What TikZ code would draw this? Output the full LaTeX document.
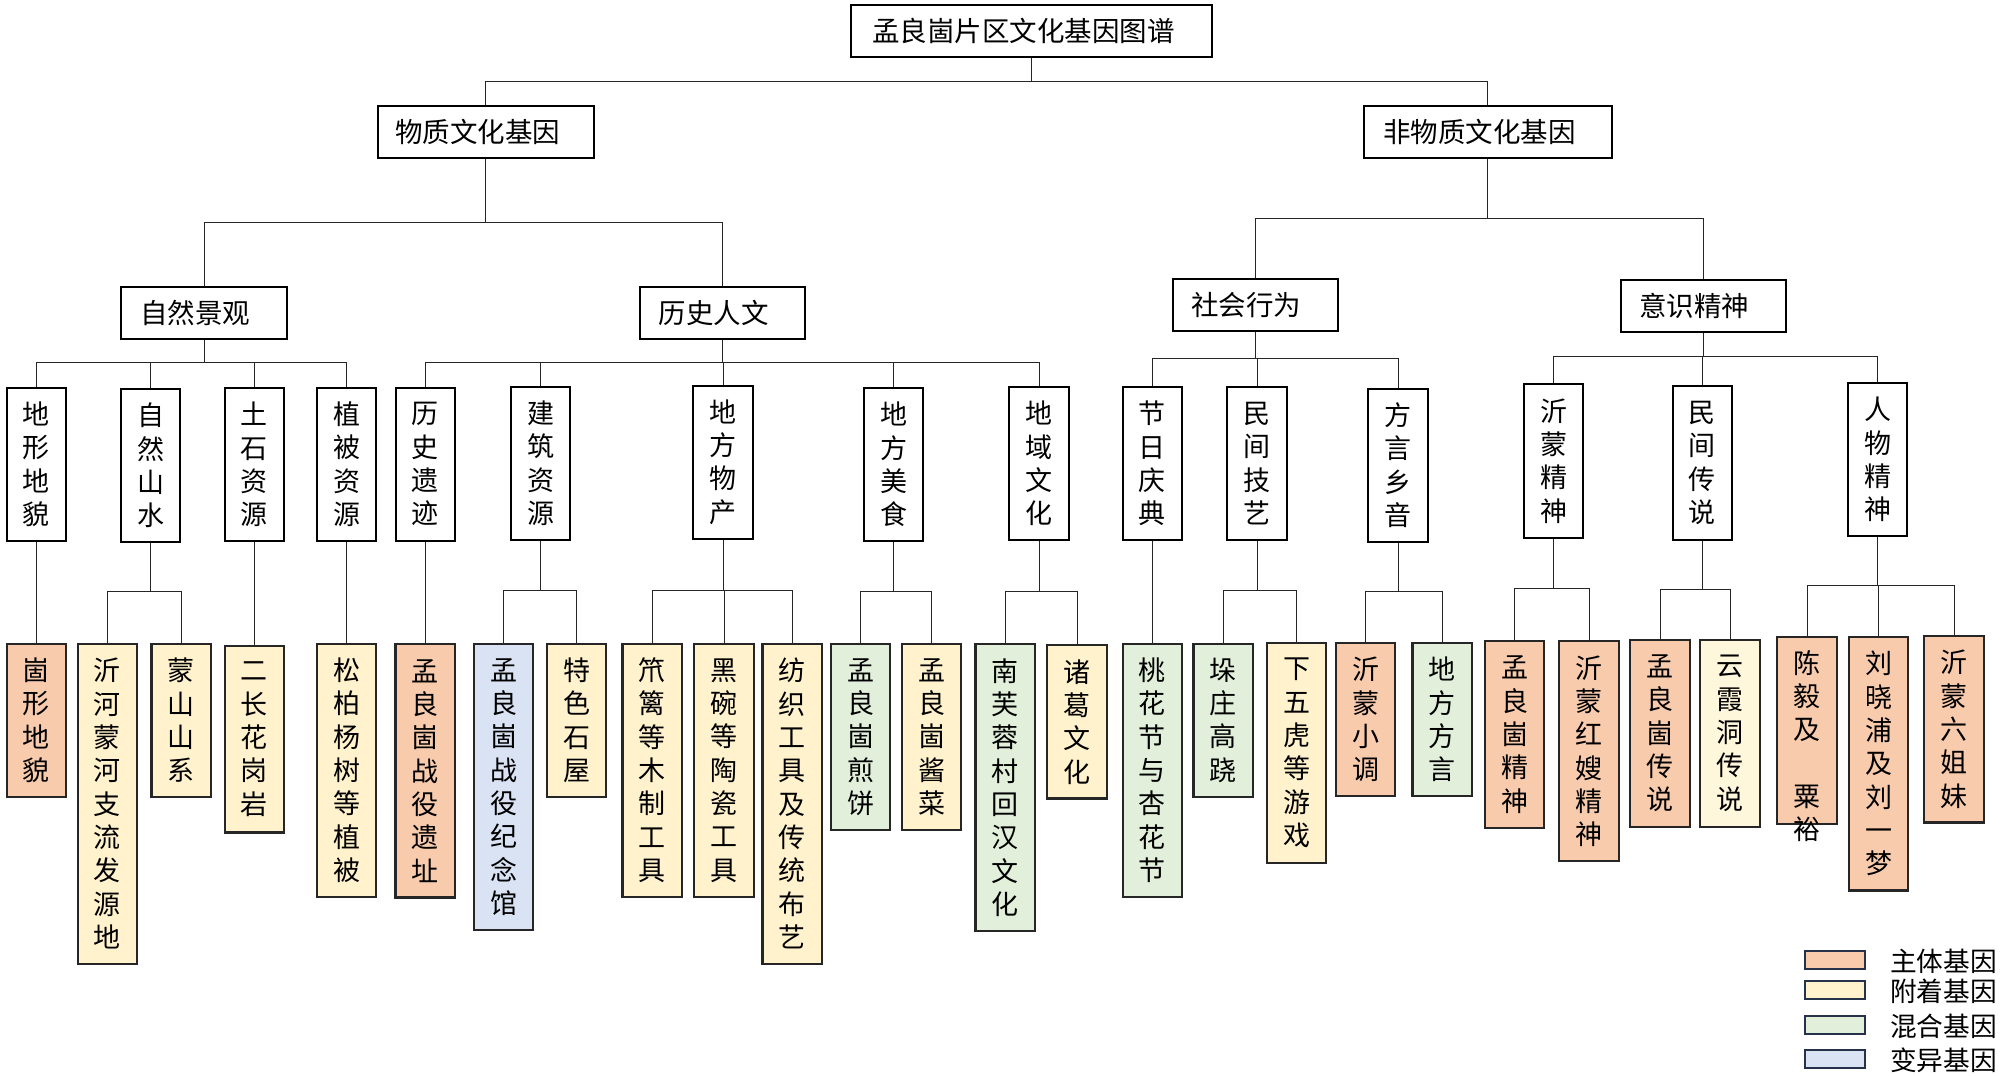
\documentclass[tikz,border=0pt]{standalone}
\usepackage{fontspec}
\setmainfont{Noto Sans CJK SC}
\definecolor{czt}{HTML}{F8CBAD}
\definecolor{cfz}{HTML}{FFF2CC}
\definecolor{chh}{HTML}{E2EFDA}
\definecolor{cby}{HTML}{DAE3F3}
\definecolor{cfzb}{HTML}{FFF7DC}
\definecolor{cleg}{HTML}{26324A}
\newcommand\busline[4]{%
  \draw[conn] (#1.south) -- (#1.south |- 0,#4);
  \draw[conn] (#2.north) -- (#2.north |- 0,#4) -- (#3.north |- 0,#4) -- (#3.north);}
\newcommand\mydrop[2]{\draw[conn] (#1.north) -- (#1.north |- 0,#2);}
\newcommand\leaf[6]{\node[leafbox, fill=#5, minimum height=33.333*#4+20] (#1) at (#2,#3) {#6};}
\begin{document}
\begin{tikzpicture}[x=1pt,y=-1pt,
  conn/.style={line width=0.9pt, draw=black!85},
  hbox/.style={draw=black, line width=2pt, inner sep=0pt, minimum height=52pt, font=\fontsize{27.5}{33}\selectfont},
  vbox/.style={draw=black, line width=2pt, inner sep=0pt, minimum width=59.3pt, minimum height=153.3pt, align=center, anchor=north, font=\fontsize{27}{33.333}\selectfont},
  leafbox/.style={draw=black!85, line width=2.2pt, inner sep=0pt, minimum width=59.3pt, align=center, anchor=north, font=\fontsize{27}{33.333}\selectfont},
  legbox/.style={draw=cleg, line width=2.4pt, minimum width=60pt, minimum height=18.5pt, inner sep=0pt},
  legtxt/.style={anchor=west, inner sep=0pt, font=\fontsize{26.7}{30}\selectfont}]
\useasboundingbox (0,0) rectangle (2000,1076);

% level 0-2
\node[hbox, minimum width=361pt] (root) at (1031.5,31) {孟良崮片区文化基因图谱\hspace*{16pt}};
\node[hbox, minimum width=216pt] (wz) at (485.7,132) {物质文化基因\hspace*{16pt}};
\node[hbox, minimum width=248pt] (fwz) at (1487.5,132) {非物质文化基因\hspace*{16pt}};
\node[hbox, minimum width=166pt] (zr) at (204,312.7) {自然景观\hspace*{18pt}};
\node[hbox, minimum width=165.5pt] (ls) at (722.7,312.7) {历史人文\hspace*{18pt}};
\node[hbox, minimum width=165pt] (sh) at (1255.4,304.7) {社会行为\hspace*{18pt}};
\node[hbox, minimum width=165pt] (ys) at (1703,306) {意识精神\hspace*{18pt}};

% level 3
\node[vbox] (ta) at (36.4,386.5) {地\\形\\地\\貌};
\node[vbox] (tb) at (150.7,388) {自\\然\\山\\水};
\node[vbox] (tc) at (254.3,387) {土\\石\\资\\源};
\node[vbox] (td) at (346.5,386.5) {植\\被\\资\\源};
\node[vbox] (te) at (425.2,386.5) {历\\史\\遗\\迹};
\node[vbox] (tf) at (540.6,385.7) {建\\筑\\资\\源};
\node[vbox] (tg) at (723,384.5) {地\\方\\物\\产};
\node[vbox] (th) at (893.7,387) {地\\方\\美\\食};
\node[vbox] (ti) at (1039,386) {地\\域\\文\\化};
\node[vbox] (tj) at (1152.4,386) {节\\日\\庆\\典};
\node[vbox] (tk) at (1257,386) {民\\间\\技\\艺};
\node[vbox] (tl) at (1398,387.6) {方\\言\\乡\\音};
\node[vbox] (tm) at (1553.8,383.4) {沂\\蒙\\精\\神};
\node[vbox] (tn) at (1702.4,385.3) {民\\间\\传\\说};
\node[vbox] (to) at (1877.6,381.9) {人\\物\\精\\神};

% level 4
\leaf{p1}{36.4}{642.5}{4}{czt}{崮\\形\\地\\貌}
\leaf{p2}{107.3}{642.5}{9}{cfz}{沂\\河\\蒙\\河\\支\\流\\发\\源\\地}
\leaf{p3}{181.2}{642.5}{4}{cfz}{蒙\\山\\山\\系}
\leaf{p4}{254.3}{644.8}{5}{cfz}{二\\长\\花\\岗\\岩}
\leaf{p5}{346.5}{642.5}{7}{cfz}{松\\柏\\杨\\树\\等\\植\\被}
\leaf{p6}{425.2}{643}{7}{czt}{孟\\良\\崮\\战\\役\\遗\\址}
\leaf{p7}{503.5}{642.5}{8}{cby}{孟\\良\\崮\\战\\役\\纪\\念\\馆}
\leaf{p8}{576.5}{642.5}{4}{cfz}{特\\色\\石\\屋}
\leaf{p9}{652.2}{642.5}{7}{cfz}{笊\\篱\\等\\木\\制\\工\\具}
\leaf{p10}{724}{642.5}{7}{cfz}{黑\\碗\\等\\陶\\瓷\\工\\具}
\leaf{p11}{792.2}{642.5}{9}{cfz}{纺\\织\\工\\具\\及\\传\\统\\布\\艺}
\leaf{p12}{860.5}{642.5}{5}{chh}{孟\\良\\崮\\煎\\饼}
\leaf{p13}{931.5}{642.5}{5}{cfz}{孟\\良\\崮\\酱\\菜}
\leaf{p14}{1005.1}{643}{8}{chh}{南\\芙\\蓉\\村\\回\\汉\\文\\化}
\leaf{p15}{1077}{644}{4}{cfz}{诸\\葛\\文\\化}
\leaf{p16}{1152.4}{642.5}{7}{chh}{桃\\花\\节\\与\\杏\\花\\节}
\leaf{p17}{1223.2}{642.5}{4}{chh}{垛\\庄\\高\\跷}
\leaf{p18}{1296.5}{641.7}{6}{cfz}{下\\五\\虎\\等\\游\\戏}
\leaf{p19}{1365.6}{641.7}{4}{czt}{沂\\蒙\\小\\调}
\leaf{p20}{1442.2}{641.7}{4}{chh}{地\\方\\方\\言}
\leaf{p21}{1514.5}{640.2}{5}{czt}{孟\\良\\崮\\精\\神}
\leaf{p22}{1589}{640.2}{6}{czt}{沂\\蒙\\红\\嫂\\精\\神}
\leaf{p23}{1660}{639}{5}{czt}{孟\\良\\崮\\传\\说}
\leaf{p24}{1730}{639}{5}{cfzb}{云\\霞\\洞\\传\\说}
\leaf{p25}{1807}{636}{5}{czt}{}
\node[inner sep=0pt, align=center, font=\fontsize{27}{33.333}\selectfont] (p25t) at ([yshift=-110pt]p25.north) {陈\\毅\\及\\~\\粟\\裕};
\leaf{p26}{1878.7}{636}{7}{czt}{刘\\晓\\浦\\及\\刘\\一\\梦}
\leaf{p27}{1954}{634.8}{5}{czt}{沂\\蒙\\六\\姐\\妹}

% connectors
\draw[conn] (root.south) -- (root.south |- 0,81);
\draw[conn] (wz.north) -- (wz.north |- 0,81) -- (fwz.north |- 0,81) -- (fwz.north);
\busline{wz}{zr}{ls}{222}
\busline{fwz}{sh}{ys}{218.7}
\busline{zr}{ta}{td}{362.3} \mydrop{tb}{362.3} \mydrop{tc}{362.3}
\busline{ls}{te}{ti}{362.3} \mydrop{tf}{362.3} \mydrop{tg}{362.3} \mydrop{th}{362.3}
\busline{sh}{tj}{tl}{358.3} \mydrop{tk}{358.3}
\busline{ys}{tm}{to}{356.7} \mydrop{tn}{356.7}

\draw[conn] (ta.south) -- (p1.north);
\draw[conn] (tc.south) -- (p4.north);
\draw[conn] (td.south) -- (p5.north);
\draw[conn] (te.south) -- (p6.north);
\draw[conn] (tj.south) -- (p16.north);
\busline{tb}{p2}{p3}{591.2}
\busline{tf}{p7}{p8}{590.8}
\busline{tg}{p9}{p11}{590.4} \mydrop{p10}{590.4}
\busline{th}{p12}{p13}{591.2}
\busline{ti}{p14}{p15}{591.2}
\busline{tk}{p17}{p18}{590.4}
\busline{tl}{p19}{p20}{591.2}
\busline{tm}{p21}{p22}{588}
\busline{tn}{p23}{p24}{589}
\busline{to}{p25}{p27}{585} \mydrop{p26}{585}

% legend
\node[legbox, fill=czt] (lg1) at (1835,960) {};
\node[legbox, fill=cfz] (lg2) at (1835,990) {};
\node[legbox, fill=chh] (lg3) at (1835,1025) {};
\node[legbox, fill=cby] (lg4) at (1835,1059) {};
\node[legtxt] (lt1) at (1890,961.7) {主体基因};
\node[legtxt] (lt2) at (1890,991.7) {附着基因};
\node[legtxt] (lt3) at (1890,1026.7) {混合基因};
\node[legtxt] (lt4) at (1890,1060) {变异基因};
\end{tikzpicture}
\end{document}
